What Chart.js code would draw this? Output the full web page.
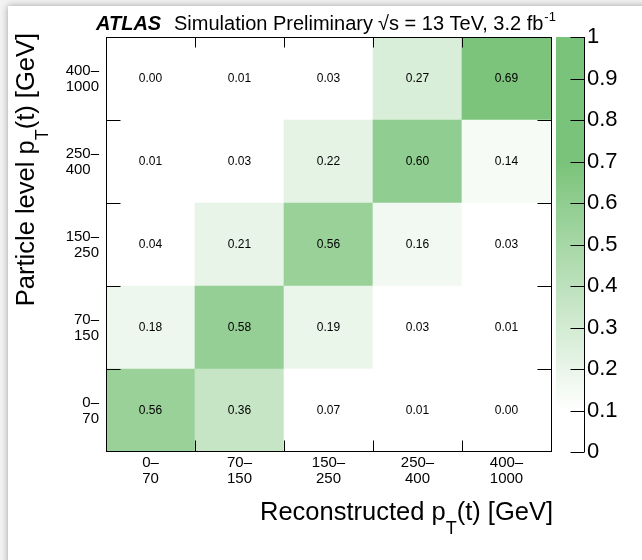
<!DOCTYPE html>
<html>
<head>
<meta charset="utf-8">
<script src="https://cdn.jsdelivr.net/npm/chart.js@4.4.1/dist/chart.umd.min.js"></script>
<style>
  html, body { margin: 0; padding: 0; width: 642px; height: 560px; overflow: hidden; background: #f3f3f3; }
  #sheet { position: absolute; left: 8px; top: 6px; width: 700px; height: 620px; background: #fff;
           box-shadow: 0 0 7px rgba(0,0,0,0.35); }
  #wrap { position: absolute; left: 0; top: 0; width: 642px; height: 560px; }
</style>
</head>
<body>
<div id="sheet"></div>
<div id="wrap"><canvas id="c" width="642" height="560"></canvas></div>
<script>
// Reconstructed-level bins (x axis) and particle-level bins (y axis, bottom to top)
const recoBins = [['0–', '70'], ['70–', '150'], ['150–', '250'], ['250–', '400'], ['400–', '1000']];
// figure spaces keep the short line of each label flush left inside its block
const particleBins = [['0–', '70'], ['70–', '150'], ['150–', '250'], ['250–', '400\u2007'], ['400–', '1000']];

// Migration fractions, one array per particle-level row, indexed by reconstructed bin
const row0to70     = [0.56, 0.36, 0.07, 0.01, 0.00];
const row70to150   = [0.18, 0.58, 0.19, 0.03, 0.01];
const row150to250  = [0.04, 0.21, 0.56, 0.16, 0.03];
const row250to400  = [0.01, 0.03, 0.22, 0.60, 0.14];
const row400to1000 = [0.00, 0.01, 0.03, 0.27, 0.69];
const matrixRows = [row0to70, row70to150, row150to250, row250to400, row400to1000];

// Colour scale ticks
const zTicks = [0, 0.1, 0.2, 0.3, 0.4, 0.5, 0.6, 0.7, 0.8, 0.9, 1];

const FONT = '"Liberation Sans", Arial, Helvetica, sans-serif';

// white below 0.1, rising linearly to full green at 0.7
function cellColour(v) {
  const t = Math.max(0, Math.min(1, (v - 0.1) / 0.6));
  const r = Math.round(255 - t * (255 - 122));
  const g = Math.round(255 - t * (255 - 195));
  return `rgb(${r},${g},${r})`;
}

const datasets = matrixRows.map((row, r) => ({
  label: particleBins[r].join(''),
  data: row.map(() => 1),
  cellValues: row,
  backgroundColor: row.map(cellColour),
  borderWidth: 0,
  barPercentage: 1,
  categoryPercentage: 1,
  stack: 'cells'
}));

function drawSubscripted(ctx, parts, x, y) {
  // parts: [text, size, dy]
  let cx = x;
  parts.forEach(([txt, size, dy]) => {
    ctx.font = `${size}px ${FONT}`;
    ctx.fillText(txt, cx, y + dy);
    cx += ctx.measureText(txt).width;
  });
}
function partsWidth(ctx, parts) {
  let w = 0;
  parts.forEach(([txt, size]) => { ctx.font = `${size}px ${FONT}`; w += ctx.measureText(txt).width; });
  return w;
}

const decorations = {
  id: 'decorations',
  afterDatasetsDraw(chart) {
    const { ctx, chartArea: a, scales: { x, y } } = chart;
    ctx.save();
    // cell values
    ctx.font = `12px ${FONT}`;
    ctx.fillStyle = '#000';
    ctx.textAlign = 'center';
    ctx.textBaseline = 'middle';
    chart.data.datasets.forEach((ds, di) => {
      chart.getDatasetMeta(di).data.forEach((el, i) => {
        ctx.fillText(ds.cellValues[i].toFixed(2), el.x, (el.y + el.base) / 2);
      });
    });
    // frame
    ctx.strokeStyle = '#000';
    ctx.lineWidth = 1;
    const L = a.left + 0.5, R = a.right + 0.5, T = a.top + 0.5, B = a.bottom - 0.5;
    ctx.strokeRect(L, T, R - L, B - T);
    // ticks at bin edges on all four sides
    ctx.beginPath();
    for (let i = 1; i < recoBins.length; i++) {
      const px = Math.round((x.getPixelForValue(i - 1) + x.getPixelForValue(i)) / 2) + 0.5;
      ctx.moveTo(px, B); ctx.lineTo(px, B - 11);
      ctx.moveTo(px, T); ctx.lineTo(px, T + 10);
    }
    for (let i = 1; i < particleBins.length; i++) {
      const py = Math.round(y.getPixelForValue(i)) + 0.5;
      ctx.moveTo(L, py); ctx.lineTo(L + 14, py);
      ctx.moveTo(R, py); ctx.lineTo(R - 14, py);
    }
    ctx.stroke();
    ctx.restore();
  },
  afterDraw(chart) {
    const { ctx, chartArea: a, scales: { cb } } = chart;
    ctx.save();
    // colour bar
    const bx = cb.left + 5, bw = 28;
    for (let py = Math.floor(cb.top); py < Math.ceil(cb.bottom); py++) {
      ctx.fillStyle = cellColour(cb.getValueForPixel(py + 0.5));
      ctx.fillRect(bx, py, bw, 1);
    }
    ctx.strokeStyle = '#000';
    ctx.lineWidth = 1;
    ctx.beginPath();
    const ax = bx + bw + 0.5;
    ctx.moveTo(ax, cb.top); ctx.lineTo(ax, cb.bottom);
    zTicks.forEach(v => {
      const py = Math.round(cb.getPixelForValue(v)) + 0.5;
      ctx.moveTo(ax, py); ctx.lineTo(ax - 14, py);
    });
    ctx.stroke();

    ctx.fillStyle = '#000';
    ctx.textBaseline = 'alphabetic';
    ctx.textAlign = 'left';
    // header
    ctx.font = `italic bold 20px ${FONT}`;
    ctx.fillText('ATLAS', 96, 30);
    ctx.font = `20px ${FONT}`;
    ctx.fillText('Simulation Preliminary', 174, 30);
    const lumi = '√s = 13 TeV, 3.2 fb';
    ctx.fillText(lumi, 378, 30);
    const lw = ctx.measureText(lumi).width;
    ctx.font = `13px ${FONT}`;
    ctx.fillText('-1', 378 + lw + 1, 21);

    // x title, right-aligned to the frame
    const xParts = [['Reconstructed p', 25.5, 0], ['T', 18, 14], ['(t) [GeV]', 25.5, 0]];
    const xw = partsWidth(ctx, xParts);
    drawSubscripted(ctx, xParts, a.right + 2 - xw, 520);

    // y title, rotated, ending at the top of the frame
    const yParts = [['Particle level p', 25.5, 0], ['T', 18, 14], ['(t) [GeV]', 25.5, 0]];
    const yw = partsWidth(ctx, yParts);
    ctx.translate(34, a.top - 4 + yw);
    ctx.rotate(-Math.PI / 2);
    drawSubscripted(ctx, yParts, 0, 0);
    ctx.restore();
  }
};

new Chart(document.getElementById('c'), {
  type: 'bar',
  data: { labels: recoBins, datasets },
  options: {
    responsive: false,
    devicePixelRatio: 1,
    animation: false,
    layout: { padding: { top: 37, left: 0, right: 0, bottom: 0 } },
    plugins: { legend: { display: false }, tooltip: { enabled: false }, title: { display: false } },
    scales: {
      x: {
        stacked: true,
        grid: { display: false, drawTicks: false },
        border: { display: false },
        ticks: { color: '#000', font: { family: FONT, size: 15, lineHeight: 1.07 }, padding: 3, maxRotation: 0, autoSkip: false },
        afterFit: s => { s.height = 108; }
      },
      y: {
        type: 'linear',
        stacked: true,
        min: 0, max: 5,
        grid: { display: false, drawTicks: false },
        border: { display: false },
        afterBuildTicks: s => { s.ticks = particleBins.map((_, i) => ({ value: i + 0.5 })); },
        ticks: {
          color: '#000', font: { family: FONT, size: 15, lineHeight: 1.07 }, padding: 7,
          callback: (v, i) => particleBins[i]
        },
        afterFit: s => { s.width = 106; }
      },
      cb: {
        type: 'linear',
        position: 'right',
        min: 0, max: 1,
        // invisible tick marks only reserve room for the colour bar
        grid: { display: true, drawOnChartArea: false, drawTicks: true, tickLength: 31, color: 'rgba(0,0,0,0)' },
        border: { display: false },
        afterBuildTicks: s => { s.ticks = zTicks.map(v => ({ value: v })); },
        ticks: {
          color: '#000', font: { family: FONT, size: 22 }, padding: 5,
          callback: v => String(Math.round(v * 10) / 10)
        },
        afterFit: s => { s.width = 91; }
      }
    }
  },
  plugins: [decorations]
});
</script>
</body>
</html>
